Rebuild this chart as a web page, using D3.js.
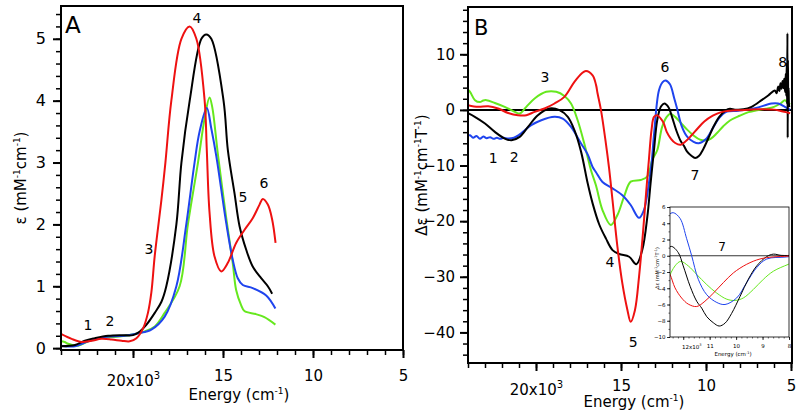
<!DOCTYPE html>
<html><head><meta charset="utf-8">
<script src="https://cdn.jsdelivr.net/npm/d3@7"></script>
<style>
body{margin:0;background:#fff}
svg text{font-family:"DejaVu Sans",Verdana,sans-serif;fill:#000}
</style>
</head><body>
<svg id="c" width="800" height="416"></svg>
<script>
// ---------- DATA (energy cm^-1, value) ----------
// Panel A: absorption epsilon (mM^-1 cm^-1)
const aBlack = [[24000,0.03],[23220,0.05],[22670,0.12],[22120,0.16],[21380,0.2],[20640,0.21],[20000,0.21],[19620,0.27],[19250,0.38],[18790,0.57],[18420,0.75],[18150,1.0],[17590,2.0],[17310,3.0],[16850,4.0],[16200,5.0],[15930,5.07],[15650,5.0],[14970,4.0],[14730,3.2],[14360,2.5],[14080,1.97],[13710,1.59],[13350,1.32],[12880,1.13],[12510,1.0],[12270,0.88]];
const aRed = [[24000,0.23],[23410,0.15],[22850,0.1],[22300,0.12],[21750,0.15],[21190,0.14],[20640,0.12],[20180,0.11],[19810,0.16],[19440,0.32],[19170,0.57],[18980,0.9],[18790,1.5],[18420,2.4],[18200,3.0],[17870,4.0],[17310,5.0],[16850,5.2],[16480,5.0],[16020,4.0],[15900,3.2],[15750,2.2],[15470,1.48],[15100,1.24],[14730,1.38],[14270,1.7],[13810,1.91],[13350,2.1],[12970,2.32],[12790,2.41],[12510,2.32],[12270,2.08],[12080,1.7]];
const aBlue = [[24000,0.04],[23220,0.03],[22490,0.11],[21560,0.18],[20450,0.2],[19710,0.24],[18980,0.3],[18240,0.51],[17590,1.0],[17040,2.0],[16580,3.0],[16300,3.5],[15900,3.88],[15650,3.55],[15370,3.1],[14820,2.02],[14460,1.43],[14180,1.13],[13900,1.02],[13350,0.97],[12600,0.85],[12090,0.64]];
const aGreen = [[24000,0.11],[23800,0.1],[23600,0.07],[23040,0.04],[22490,0.11],[21930,0.16],[21190,0.18],[20450,0.2],[19900,0.23],[19350,0.27],[18790,0.35],[18240,0.57],[17410,1.0],[16950,2.0],[16390,3.0],[16000,3.75],[15750,4.05],[15600,3.9],[15290,3.15],[14820,2.1],[14460,1.38],[14270,0.94],[14000,0.7],[13810,0.6],[13170,0.55],[12700,0.5],[12090,0.38]];

// Panel B: MCD delta-epsilon (mM^-1 cm^-1 T^-1)
const bBlack = [[24000,-0.6],[23600,-1.25],[23000,-2.45],[22420,-3.95],[21840,-5.15],[21440,-5.45],[20960,-4.85],[20470,-3.05],[19890,-0.95],[19200,0.25],[18620,-0.05],[18130,-1.25],[17740,-3.65],[17350,-7.5],[16960,-13.2],[16670,-16.8],[16280,-20.6],[15890,-23.1],[15500,-25.2],[15110,-25.9],[14520,-26.4],[14100,-27.75],[13750,-25.2],[13450,-19.2],[13260,-13.2],[13060,-7.25],[12870,-1.85],[12650,0.6],[12450,1.15],[12190,0.4],[12000,-1.25],[11740,-3.75],[11490,-5.6],[11300,-6.45],[11110,-7.5],[10860,-8.25],[10640,-8.65],[10420,-8.3],[10170,-7.1],[9850,-5.0],[9540,-2.9],[9220,-1.25],[8840,-0.1],[8590,0.2],[8300,0.05],[7800,0.1],[7320,0.55],[6730,1.75],[6340,2.6],[5950,3.5],[5850,3.0],[5750,4.2],[5680,3.4],[5620,4.8],[5560,3.8],[5500,5.2],[5450,3.9],[5400,5.6],[5350,3.2],[5310,6.5],[5280,2.5],[5250,8.5],[5230,1.0],[5210,13.8],[5195,-5.0],[5180,9.0],[5160,2.0],[5140,4.0],[5120,1.0],[5100,0.5]];
const bRed = [[24000,0.85],[23400,0.55],[22810,0.65],[22230,0.25],[21640,-0.55],[21060,-0.95],[20570,-0.95],[20080,-0.35],[19500,0.25],[18910,1.15],[18330,2.35],[17740,5.05],[17300,6.6],[17060,7.0],[16670,6.2],[16470,4.5],[16380,3.0],[16180,0],[15890,-6.0],[15700,-10.5],[15500,-16.2],[15210,-24.6],[14920,-31.2],[14620,-36],[14430,-38.1],[14180,-36],[13940,-30],[13710,-22.2],[13510,-14.4],[13360,-9],[13200,-3.5],[13060,-1.25],[12870,-0.95],[12650,-1.6],[12500,-2.3],[12310,-3.95],[12060,-5.2],[11810,-5.95],[11490,-6.25],[11180,-5.6],[10860,-4.6],[10480,-3.3],[10100,-2.1],[9600,-1.05],[9100,-0.4],[8600,-0.15],[8000,-0.05],[7000,0.1],[6000,0.05],[5600,-0.2],[5300,-0.4],[5050,-0.6]];
const bBlue = [[24000,-4.6],[23880,-4.55],[23700,-5.0],[23500,-4.7],[23300,-5.2],[23100,-4.8],[22900,-5.1],[22700,-4.9],[22500,-5.2],[22300,-5.0],[22100,-5.2],[21900,-5.0],[21660,-5.15],[21300,-5.0],[21000,-4.5],[20770,-3.95],[20280,-2.75],[19690,-1.85],[18910,-1.25],[18430,-1.55],[17940,-3.05],[17350,-6.05],[16960,-8.0],[16670,-10.25],[16470,-11.2],[16090,-12.95],[15500,-14.1],[14920,-15.35],[14430,-17.1],[13940,-19.4],[13650,-18],[13360,-13.2],[13200,-9.5],[13060,-4.5],[12770,3.5],[12550,5.0],[12380,5.3],[12120,4.6],[11870,2.1],[11680,0],[11430,-2.9],[11110,-4.8],[10730,-5.75],[10420,-6.0],[9980,-5.2],[9600,-3.3],[9220,-1.45],[8840,-0.4],[8100,-0.15],[7120,0.3],[6150,1.15],[5760,1.15],[5360,0.55],[5050,0]];
const bGreen = [[24000,3.6],[23880,3.25],[23590,1.75],[23300,1.4],[23100,1.7],[22910,1.75],[22420,1.25],[21840,0.55],[21250,-0.35],[20960,-0.65],[20570,0.55],[20080,2.05],[19400,3.25],[18810,3.25],[18330,2.5],[17940,1.15],[17550,-1.85],[17160,-6.05],[16960,-8.5],[16770,-10.8],[16470,-13.6],[16090,-18],[15600,-20.7],[15210,-18.9],[14820,-15.6],[14430,-12.9],[13840,-12.6],[13460,-12],[13160,-9],[12870,-7.25],[12580,-3.05],[12310,-1.25],[12100,-0.7],[11810,-1.25],[11490,-2.3],[11110,-3.55],[10730,-4.6],[10350,-5.35],[10040,-5.5],[9730,-5.2],[9350,-4.15],[8970,-2.9],[8590,-1.9],[8020,-1.05],[7500,-0.4],[7000,-0.05],[6500,0.2],[6000,0.55],[5600,1.2],[5360,1.75],[5200,1.3],[5050,1.0]];

// tick values
const xMajor = [20000,15000,10000,5000];
const aYMajor = [0,1,2,3,4,5];
const bYMajor = [-40,-30,-20,-10,0,10];
const inXMajor = [12000,11000,10000,9000,8000];
const inYMajor = [-10,-8,-6,-4,-2,0,2,4,6];

// band labels [text, energy, value]
const aBands = [["1",22500,0.29],["2",21280,0.36],["3",19110,1.52],["4",16440,5.25],["5",13890,2.36],["6",12720,2.59]];
const bBands = [["1",22510,-9.6],["2",21280,-9.3],["3",19470,5.1],["4",15650,-28.2],["5",14280,-42.6],["6",12410,6.9],["7",10650,-12.6],["8",5490,7.8]];

const colors = {black:"#000000", red:"#ee1111", blue:"#1f44ee", green:"#66e81e"};

// ---------- DRAW ----------
const svg = d3.select("#c");
const defs = svg.append("defs");

// parts: strings are normal text, [s] are superscripts
function sup(sel, parts, supSize, shift){
  let raised = false;
  parts.forEach(p=>{
    if(typeof p === "string"){
      const t = sel.append("tspan").text(p);
      if(raised){ t.attr("dy",shift); raised=false; }
    } else {
      sel.append("tspan").attr("dy",-shift).attr("font-size",supSize).text(p[0]);
      raised = true;
    }
  });
}

function fmtX(g, big, supSize, shift, extraDy){
  g.selectAll(".tick text").each(function(d){
    const t = d3.select(this);
    if(d === big){
      t.text(null);
      t.attr("y", +t.attr("y") + extraDy);
      t.append("tspan").text(String(big/1000)+"x10");
      t.append("tspan").attr("dy",-shift).attr("font-size",supSize).text("3");
    } else {
      t.text(String(d/1000));
    }
  });
}

function range(a,b,s){const r=[];for(let v=a;v<=b+1e-9;v+=s)r.push(+v.toFixed(4));return r;}

function curve(g, x, y, data, color, w){
  const line = d3.line().x(d=>x(d[0])).y(d=>y(d[1])).curve(d3.curveCatmullRom.alpha(0.5));
  g.append("path").datum(data.slice().sort((a,b)=>b[0]-a[0]))
    .attr("d",line).attr("fill","none").attr("stroke",color)
    .attr("stroke-width",w).attr("stroke-linejoin","round");
}

// ===== Panel A =====
const xA = d3.scaleLinear().domain([24000,5000]).range([61,403]);
const yA = d3.scaleLinear().domain([-0.03,5.53]).range([350,6]);

defs.append("clipPath").attr("id","clipA").append("rect")
  .attr("x",61).attr("y",6).attr("width",342).attr("height",344);
const gA = svg.append("g").attr("clip-path","url(#clipA)");
[["green",aGreen],["blue",aBlue],["black",aBlack],["red",aRed]].forEach(([c,d])=>curve(gA,xA,yA,d,colors[c],2));

svg.append("rect").attr("x",61).attr("y",6).attr("width",342).attr("height",344)
  .attr("fill","none").attr("stroke","#000").attr("stroke-width",2);

svg.append("g").attr("transform","translate(0,350)")
  .call(d3.axisBottom(xA).tickValues(range(5000,24000,1000)).tickSize(5).tickFormat(""))
  .call(g=>g.select(".domain").remove()).selectAll("line").attr("stroke-width",1.5);
svg.append("g").attr("transform","translate(61,0)")
  .call(d3.axisLeft(yA).tickValues(range(0,5.4,0.2)).tickSize(5).tickFormat(""))
  .call(g=>g.select(".domain").remove()).selectAll("line").attr("stroke-width",1.5);
const axA = svg.append("g").attr("transform","translate(0,350)")
  .call(d3.axisBottom(xA).tickValues(xMajor).tickSize(8).tickPadding(12))
  .call(g=>g.select(".domain").remove());
axA.selectAll("line").attr("stroke-width",2);
axA.selectAll("text").attr("font-size",15).attr("font-family","DejaVu Sans");
fmtX(axA,20000,10,7,5);
const ayA = svg.append("g").attr("transform","translate(61,0)")
  .call(d3.axisLeft(yA).tickValues(aYMajor).tickSize(8).tickPadding(7).tickFormat(d3.format("d")))
  .call(g=>g.select(".domain").remove());
ayA.selectAll("line").attr("stroke-width",2);
ayA.selectAll("text").attr("font-size",16).attr("font-family","DejaVu Sans");

const tAx = svg.append("text").attr("x",239).attr("y",400).attr("text-anchor","middle").attr("font-size",15);
sup(tAx,["Energy (cm",["-1"],")"],9,6);
const tAy = svg.append("text").attr("transform","translate(26,178) rotate(-90)").attr("text-anchor","middle").attr("font-size",15);
sup(tAy,["\u03B5 (mM",["-1"],"cm",["-1"],")"],9,6);
svg.append("text").attr("x",65).attr("y",33).attr("font-size",23).text("A");

aBands.forEach(([t,e,v])=>svg.append("text").attr("x",xA(e)).attr("y",yA(v)).attr("text-anchor","middle").attr("font-size",14).text(t));

// ===== Panel B =====
const xB = d3.scaleLinear().domain([24000,5000]).range([468,791]);
const yB = d3.scaleLinear().domain([-45.5,18.5]).range([363,7]);

defs.append("clipPath").attr("id","clipB").append("rect")
  .attr("x",468).attr("y",7).attr("width",324).attr("height",356);
const gB = svg.append("g").attr("clip-path","url(#clipB)");
gB.append("line").attr("x1",468).attr("x2",792).attr("y1",yB(0)).attr("y2",yB(0)).attr("stroke","#000").attr("stroke-width",2);
[["green",bGreen],["blue",bBlue],["black",bBlack],["red",bRed]].forEach(([c,d])=>curve(gB,xB,yB,d,colors[c],2));

svg.append("rect").attr("x",468).attr("y",7).attr("width",324).attr("height",356)
  .attr("fill","none").attr("stroke","#000").attr("stroke-width",2);

svg.append("g").attr("transform","translate(0,363)")
  .call(d3.axisBottom(xB).tickValues(range(5000,24000,1000)).tickSize(5).tickFormat(""))
  .call(g=>g.select(".domain").remove()).selectAll("line").attr("stroke-width",1.5);
svg.append("g").attr("transform","translate(468,0)")
  .call(d3.axisLeft(yB).tickValues(range(-44,18,2)).tickSize(5).tickFormat(""))
  .call(g=>g.select(".domain").remove()).selectAll("line").attr("stroke-width",1.5);
const axB = svg.append("g").attr("transform","translate(0,363)")
  .call(d3.axisBottom(xB).tickValues(xMajor).tickSize(8).tickPadding(9))
  .call(g=>g.select(".domain").remove());
axB.selectAll("line").attr("stroke-width",2);
axB.selectAll("text").attr("font-size",15).attr("font-family","DejaVu Sans");
fmtX(axB,20000,10,7,4);
const ayB = svg.append("g").attr("transform","translate(468,0)")
  .call(d3.axisLeft(yB).tickValues(bYMajor).tickSize(8).tickPadding(5).tickFormat(d3.format("d")))
  .call(g=>g.select(".domain").remove());
ayB.selectAll("line").attr("stroke-width",2);
ayB.selectAll("text").attr("font-size",15).attr("font-family","DejaVu Sans");

const tBx = svg.append("text").attr("x",634).attr("y",407).attr("text-anchor","middle").attr("font-size",15);
sup(tBx,["Energy (cm",["-1"],")"],9,6);
const tBy = svg.append("text").attr("transform","translate(427,175) rotate(-90)").attr("text-anchor","middle").attr("font-size",15);
sup(tBy,["\u0394\u03B5 (mM",["-1"],"cm",["-1"],"T",["-1"],")"],9,6);
svg.append("text").attr("x",474).attr("y",35).attr("font-size",21).text("B");

bBands.forEach(([t,e,v])=>svg.append("text").attr("x",xB(e)).attr("y",yB(v)).attr("text-anchor","middle").attr("font-size",14).text(t));

// ===== Inset =====
const xI = d3.scaleLinear().domain([12500,8000]).range([670,789]);
const yI = d3.scaleLinear().domain([-10,6]).range([337,207]);
svg.append("rect").attr("x",670).attr("y",207).attr("width",119).attr("height",130).attr("fill","#fff");
defs.append("clipPath").attr("id","clipI").append("rect")
  .attr("x",670).attr("y",207).attr("width",119).attr("height",130);
const gI = svg.append("g").attr("clip-path","url(#clipI)");
gI.append("line").attr("x1",670).attr("x2",789).attr("y1",yI(0)).attr("y2",yI(0)).attr("stroke","#000").attr("stroke-width",0.8);
[["green",bGreen],["blue",bBlue],["black",bBlack],["red",bRed]].forEach(([c,d])=>curve(gI,xI,yI,d,colors[c],1));
svg.append("rect").attr("x",670).attr("y",207).attr("width",119).attr("height",130)
  .attr("fill","none").attr("stroke","#000").attr("stroke-width",0.8);

svg.append("g").attr("transform","translate(0,337)")
  .call(d3.axisBottom(xI).tickValues(range(8000,12400,200)).tickSize(1.5).tickFormat(""))
  .call(g=>g.select(".domain").remove()).selectAll("line").attr("stroke-width",0.6);
svg.append("g").attr("transform","translate(670,0)")
  .call(d3.axisLeft(yI).tickValues(range(-10,6,1)).tickSize(1.5).tickFormat(""))
  .call(g=>g.select(".domain").remove()).selectAll("line").attr("stroke-width",0.6);
const axI = svg.append("g").attr("transform","translate(0,337)")
  .call(d3.axisBottom(xI).tickValues(inXMajor).tickSize(3).tickPadding(4))
  .call(g=>g.select(".domain").remove());
axI.selectAll("line").attr("stroke-width",0.8);
axI.selectAll("text").attr("font-size",5.5).attr("font-family","DejaVu Sans");
fmtX(axI,12000,3.5,2.5,1);
axI.selectAll(".tick").filter(d=>d===12000).select("text").attr("x",8);
const ayI = svg.append("g").attr("transform","translate(670,0)")
  .call(d3.axisLeft(yI).tickValues(inYMajor).tickSize(3).tickPadding(1.5).tickFormat(d3.format("d")))
  .call(g=>g.select(".domain").remove());
ayI.selectAll("line").attr("stroke-width",0.8);
ayI.selectAll("text").attr("font-size",5.5).attr("font-family","DejaVu Sans");

const tIx = svg.append("text").attr("x",733).attr("y",356).attr("text-anchor","middle").attr("font-size",5.5);
sup(tIx,["Energy (cm",["-1"],")"],3.5,2);
const tIy = svg.append("text").attr("transform","translate(659,268) rotate(-90)").attr("text-anchor","middle").attr("font-size",5);
sup(tIy,["\u0394\u03B5 (mM",["-1"],"cm",["-1"],"T",["-1"],")"],3.5,2);
svg.append("text").attr("x",722).attr("y",251).attr("text-anchor","middle").attr("font-size",12).text("7");
</script>
</body></html>
